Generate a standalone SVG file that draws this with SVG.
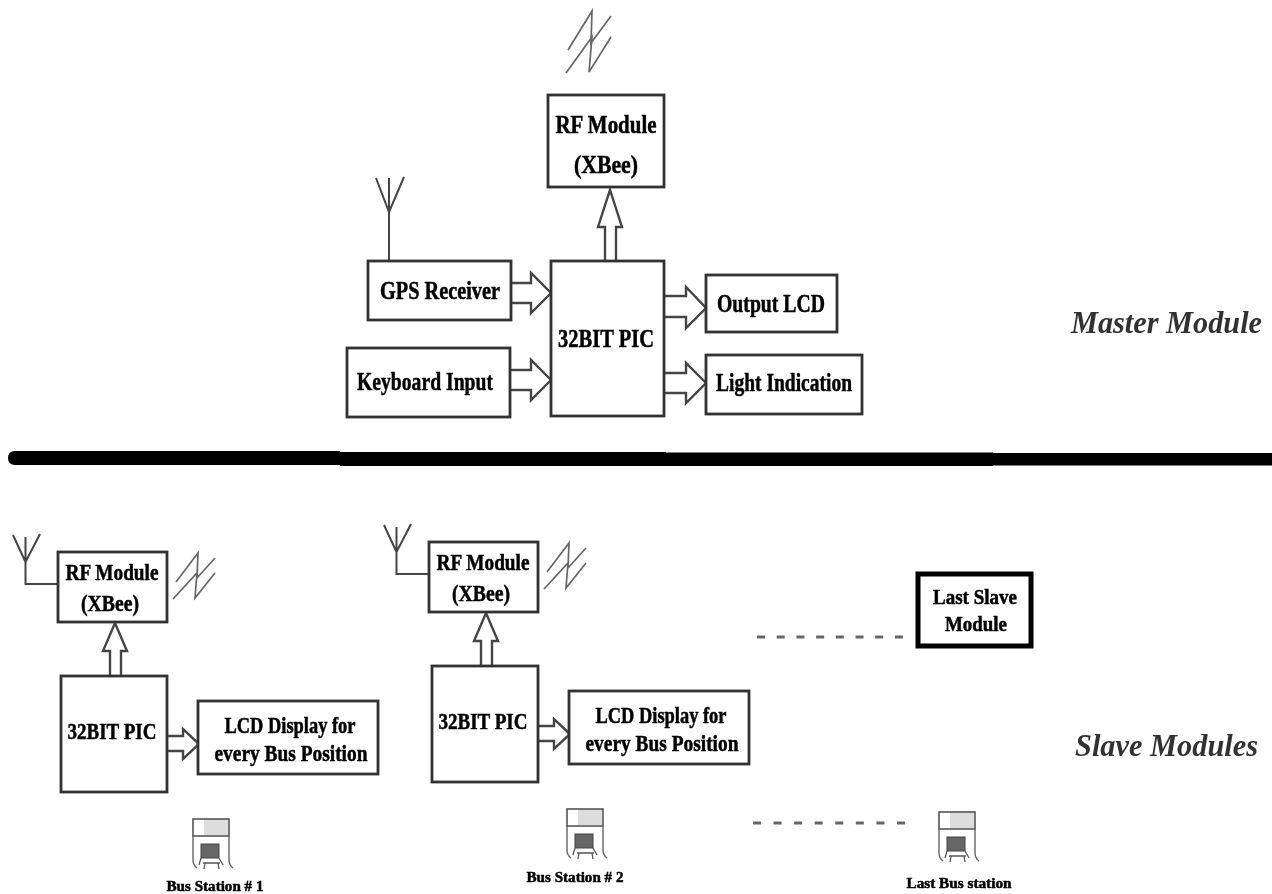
<svg xmlns="http://www.w3.org/2000/svg" width="1272" height="894" viewBox="0 0 1272 894">
<style>
.b{fill:#fff;stroke:#333;stroke-width:2.8}
.l{fill:none;stroke:#444;stroke-width:2}
.z{fill:none;stroke:#666;stroke-width:1.7}
.a{fill:#fff;stroke:#444;stroke-width:2.4}
.t{font-family:"Liberation Serif","Times New Roman",serif;font-weight:700;fill:#000;stroke:#000;stroke-width:0.5;text-anchor:middle}
.m{font-size:26px}
.s{font-size:23px}
.c{font-size:15px}
.i{font-family:"Liberation Serif","Times New Roman",serif;font-style:italic;font-weight:700;font-size:31px;fill:#333}
.d{stroke:#666;stroke-width:3;fill:none}
</style>
<defs>
<filter id="soft" filterUnits="userSpaceOnUse" x="0" y="0" width="1272" height="894"><feGaussianBlur stdDeviation="0.7"/></filter>
<g id="station">
<rect x="204" y="819" width="24" height="16" fill="#ddd"/>
<rect x="193" y="819" width="36" height="17" fill="none" stroke="#555" stroke-width="1.6"/>
<path d="M193 836V860Q193 865 197 868M229 836V860Q229 865 233 868" fill="none" stroke="#666" stroke-width="1.4"/>
<rect x="201" y="844" width="18" height="14" fill="#666" stroke="#444" stroke-width="1"/>
<path d="M201 858L199 865M219 858L223 865M203 863H220M205 863L204 869M218 863L219 869" fill="none" stroke="#555" stroke-width="1.3"/>
</g>
</defs>
<rect width="1272" height="894" fill="#fff"/>
<g filter="url(#soft)">
<g id="connectors">
<path class="l" d="M389 261V212M376 178L389 212L404 177M389 178V212"/>
<path class="a" d="M511 283H531V273L551 293L531 313V303H511"/>
<path class="a" d="M511 370H531V360L551 380L531 400V390H511"/>
<path class="a" d="M605 261V227H598L610 190L622 227H616V261"/>
<path class="a" d="M665 296H686V287L706 308L686 328V317H665"/>
<path class="a" d="M665 373H686V363L706 383L686 403V393H665"/>
<path class="l" d="M57 584H25.500V562M13 535L25.500 562L40 534M25.500 537V562"/>
<path class="a" d="M110 675V651H103L115 623L127 651H121V675"/>
<path class="a" d="M168 736H183V729L199 744L183 759V751H168"/>
<g transform="translate(371 -10)">
<path class="l" d="M57 584H25.500V562M13 535L25.500 562L40 534M25.500 537V562"/>
<path class="a" d="M110 675V651H103L115 623L127 651H121V675"/>
<path class="a" d="M168 736H183V729L199 744L183 759V751H168"/>
</g>
<path class="d" stroke-dasharray="8 11.700" d="M757 637H903"/>
<path class="d" stroke-dasharray="8 12.570" d="M753 823H905"/>
</g>
<g id="divider" fill="#000">
<path d="M15 451H340V465H15Q8 465 8 458Q8 451 15 451Z"/>
<rect x="340" y="452" width="326" height="14"/>
<rect x="666" y="452.500" width="327" height="13.500"/>
<rect x="993" y="453" width="279" height="12.500"/>
</g>
<g id="rf-master"><rect class="b" x="548" y="95" width="116" height="92"/>
<text class="t m" x="606" y="133" textLength="101" lengthAdjust="spacingAndGlyphs">RF Module</text>
<text class="t m" x="606" y="173" textLength="64" lengthAdjust="spacingAndGlyphs">(XBee)</text>
<path class="z" d="M566 73L592 37L589 72L611 37M568 50L592 11L591 43L611 16"/></g>
<g id="gps"><rect class="b" x="368" y="261" width="143" height="59"/>
<text class="t m" x="440" y="299" textLength="120" lengthAdjust="spacingAndGlyphs">GPS Receiver</text></g>
<g id="keyboard"><rect class="b" x="347" y="348" width="163" height="69"/>
<text class="t m" x="425" y="390" textLength="136" lengthAdjust="spacingAndGlyphs">Keyboard Input</text></g>
<g id="pic-master"><rect class="b" x="551" y="261" width="113" height="155"/>
<text class="t m" x="606" y="347" textLength="96" lengthAdjust="spacingAndGlyphs">32BIT PIC</text></g>
<g id="output-lcd"><rect class="b" x="706" y="275" width="131" height="57"/>
<text class="t m" x="771" y="312" textLength="108" lengthAdjust="spacingAndGlyphs">Output LCD</text></g>
<g id="light"><rect class="b" x="706" y="355" width="156" height="59"/>
<text class="t m" x="784" y="391" textLength="136" lengthAdjust="spacingAndGlyphs">Light Indication</text></g>
<text class="i" x="1071" y="333" textLength="191" lengthAdjust="spacingAndGlyphs">Master Module</text>
<g id="rf-slave-1"><rect class="b" x="58" y="552" width="109" height="70"/>
<text class="t s" x="112" y="580" textLength="93" lengthAdjust="spacingAndGlyphs">RF Module</text>
<text class="t s" x="110" y="611" textLength="58" lengthAdjust="spacingAndGlyphs">(XBee)</text>
<path class="z" d="M173 599L197 573L195 598L215 573M176 582L198 553L197 578L215 558"/></g>
<g id="pic-slave-1"><rect class="b" x="61" y="676" width="106" height="116"/>
<text class="t s" x="112" y="739" textLength="89" lengthAdjust="spacingAndGlyphs">32BIT PIC</text></g>
<g id="lcd-slave-1"><rect class="b" x="198" y="701" width="180" height="73"/>
<text class="t s" x="290" y="733" textLength="131" lengthAdjust="spacingAndGlyphs">LCD Display for</text>
<text class="t s" x="291" y="761" textLength="153" lengthAdjust="spacingAndGlyphs">every Bus Position</text></g>
<g id="rf-slave-2" transform="translate(371 -10)"><rect class="b" x="58" y="552" width="109" height="70"/>
<text class="t s" x="112" y="580" textLength="93" lengthAdjust="spacingAndGlyphs">RF Module</text>
<text class="t s" x="110" y="611" textLength="58" lengthAdjust="spacingAndGlyphs">(XBee)</text>
<path class="z" d="M173 599L197 573L195 598L215 573M176 582L198 553L197 578L215 558"/></g>
<g id="pic-slave-2" transform="translate(371 -10)"><rect class="b" x="61" y="676" width="106" height="116"/>
<text class="t s" x="112" y="739" textLength="89" lengthAdjust="spacingAndGlyphs">32BIT PIC</text></g>
<g id="lcd-slave-2" transform="translate(371 -10)"><rect class="b" x="198" y="701" width="180" height="73"/>
<text class="t s" x="290" y="733" textLength="131" lengthAdjust="spacingAndGlyphs">LCD Display for</text>
<text class="t s" x="291" y="761" textLength="153" lengthAdjust="spacingAndGlyphs">every Bus Position</text></g>
<g id="last-slave"><rect x="918" y="574" width="113" height="72" fill="#fff" stroke="#000" stroke-width="5"/>
<text class="t" font-size="21" x="975" y="604" textLength="84" lengthAdjust="spacingAndGlyphs">Last Slave</text>
<text class="t" font-size="21" x="976" y="631" textLength="62" lengthAdjust="spacingAndGlyphs">Module</text></g>
<text class="i" x="1075" y="756" textLength="183" lengthAdjust="spacingAndGlyphs">Slave Modules</text>
<g id="station-1"><use href="#station"/>
<text class="t c" x="215" y="891" textLength="97" lengthAdjust="spacingAndGlyphs">Bus Station # 1</text></g>
<g id="station-2"><use href="#station" transform="translate(374 -10)"/>
<text class="t c" x="575" y="882" textLength="97" lengthAdjust="spacingAndGlyphs">Bus Station # 2</text></g>
<g id="station-3"><use href="#station" transform="translate(746 -7)"/>
<text class="t c" x="959" y="888" textLength="105" lengthAdjust="spacingAndGlyphs">Last Bus station</text></g>
</g>
</svg>
